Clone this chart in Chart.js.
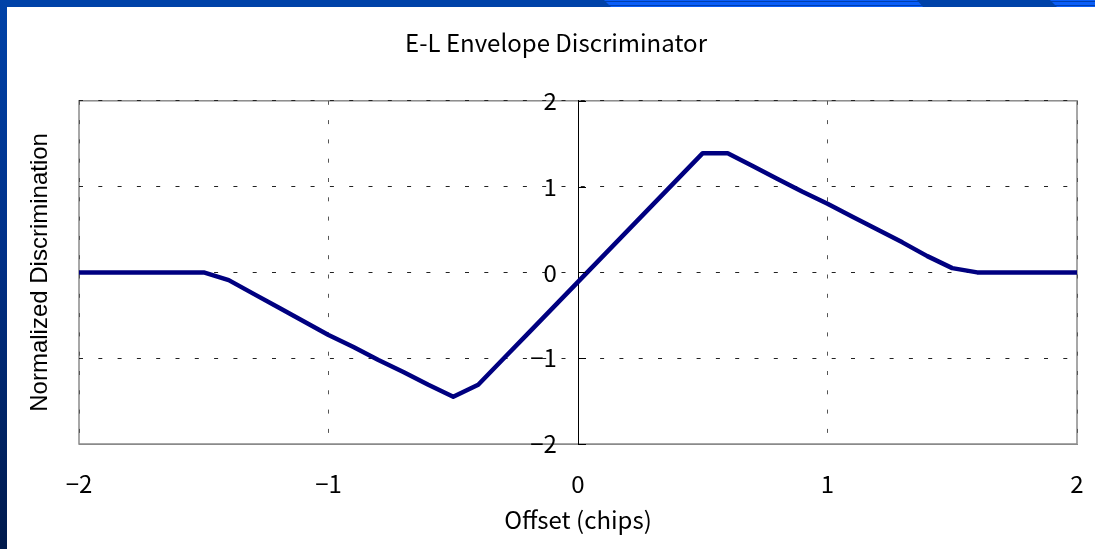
<!DOCTYPE html>
<html>
<head>
<meta charset="utf-8">
<script src="https://cdn.jsdelivr.net/npm/chart.js@4/dist/chart.umd.min.js"></script>
<style>
    body { margin: 0; background: #fff; }
    .wrap { position: relative; width: 1095px; height: 549px; overflow: hidden; background: #fff; }
    #discChart { position: absolute; left: 0; top: 0; }
    .band-top { position: absolute; left: 0; top: 0; width: 1095px; height: 7px; background: #0042a8; z-index: 2; }
    .band-stripe {
        position: absolute; top: 0; height: 7px; z-index: 3;
        background: linear-gradient(to bottom, #0a5ef8 0 1px, #0040b0 1px 2px, #0a5ef8 2px 5px, #0040b0 5px 6px, #0a5ef8 6px 7px);
    }
    .stripe-a { left: 604px; width: 320px; clip-path: polygon(0 0, 313px 0, 319px 7px, 7px 7px); }
    .stripe-b { left: 1050px; width: 45px; clip-path: polygon(0 0, 45px 0, 45px 7px, 7px 7px); }
    .band-left { position: absolute; left: 0; top: 0; width: 7px; height: 549px; z-index: 2;
        background: linear-gradient(to bottom, #0042a8 0%, #003088 45%, #001a4c 100%); }
</style>
</head>
<body>
<div class="wrap">
    <canvas id="discChart" width="1095" height="549"></canvas>
    <div class="band-top"></div>
    <div class="band-stripe stripe-a"></div>
    <div class="band-stripe stripe-b"></div>
    <div class="band-left"></div>
</div>
<script>
// E-L envelope discriminator output vs code offset
const offsets = [-2.0, -1.9, -1.8, -1.7, -1.6, -1.5, -1.4, -1.3, -1.2, -1.1, -1.0,
    -0.9, -0.8, -0.7, -0.6, -0.5, -0.4, -0.3, -0.2, -0.1, 0.0,
    0.1, 0.2, 0.3, 0.4, 0.5, 0.6, 0.7, 0.8, 0.9, 1.0,
    1.1, 1.2, 1.3, 1.4, 1.5, 1.6, 1.7, 1.8, 1.9, 2.0];
const discrimination = [0, 0, 0, 0, 0, 0, -0.09, -0.25, -0.41, -0.57, -0.73,
    -0.87, -1.02, -1.16, -1.31, -1.45, -1.31, -1.01, -0.71, -0.41, -0.11,
    0.19, 0.49, 0.79, 1.09, 1.39, 1.39, 1.24, 1.09, 0.94, 0.80,
    0.65, 0.50, 0.35, 0.19, 0.05, 0, 0, 0, 0, 0];
const xTicks = [-2, -1, 0, 1, 2];
const yTicks = [-2, -1, 0, 1, 2];

const gothic = "'Noto Sans CJK JP', 'Noto Sans', sans-serif";
const minus = v => String(v).replace('-', '\u2212');

// gray box round the plot area, drawn first so labels sit on top
const plotFrame = {
    id: 'plotFrame',
    beforeDraw(chart) {
        const {ctx, chartArea: a} = chart;
        ctx.save();
        ctx.strokeStyle = '#8a8a8a';
        ctx.lineWidth = 1.5;
        ctx.strokeRect(a.left, a.top, a.right - a.left, a.bottom - a.top);
        ctx.restore();
    }
};

// short tick marks on the inside of the center y axis
const innerTicks = {
    id: 'innerTicks',
    afterDatasetsDraw(chart) {
        const {ctx, scales: {x, y}} = chart;
        const x0 = x.getPixelForValue(0);
        ctx.save();
        ctx.strokeStyle = '#000';
        ctx.lineWidth = 1;
        ctx.beginPath();
        for (const v of yTicks) {
            const py = Math.round(y.getPixelForValue(v)) + 0.5;
            ctx.moveTo(x0, py);
            ctx.lineTo(x0 + 8, py);
        }
        ctx.stroke();
        ctx.restore();
    }
};

new Chart(document.getElementById('discChart'), {
    type: 'line',
    data: {
        datasets: [{
            data: offsets.map((o, i) => ({x: o, y: discrimination[i]})),
            borderColor: '#000080',
            borderWidth: 4.5,
            pointRadius: 0,
            tension: 0,
            borderJoinStyle: 'round',
            borderCapStyle: 'round'
        }]
    },
    options: {
        responsive: false,
        animation: false,
        layout: { padding: { left: 35, right: 18, top: 0, bottom: 0 } },
        plugins: {
            legend: { display: false },
            tooltip: { enabled: false },
            title: {
                display: true,
                text: 'E-L Envelope Discriminator',
                color: '#000',
                font: { family: gothic, size: 24, weight: 'normal', lineHeight: 1.2 },
                padding: { top: 28, bottom: 44 }
            }
        },
        scales: {
            x: {
                type: 'linear',
                min: -2,
                max: 2,
                afterBuildTicks: s => { s.ticks = xTicks.map(v => ({value: v})); },
                afterFit: s => { s.height = 105; },
                grid: { color: '#555', drawTicks: true, tickLength: 25, tickColor: 'transparent', lineWidth: 1 },
                border: { color: '#8a8a8a', dash: [4, 15.3] },
                ticks: {
                    color: '#000',
                    padding: 0,
                    maxRotation: 0,
                    font: { family: gothic, size: 24 },
                    callback: v => minus(v)
                },
                title: {
                    display: true,
                    text: 'Offset (chips)',
                    color: '#000',
                    font: { family: gothic, size: 24, lineHeight: 1.2 },
                    padding: { top: 0, bottom: 15 }
                }
            },
            // center axis line and dotted horizontal grid
            y: {
                type: 'linear',
                position: { x: 0 },
                min: -2,
                max: 2,
                afterBuildTicks: s => { s.ticks = yTicks.map(v => ({value: v})); },
                grid: { color: '#222', drawTicks: false, lineWidth: 1 },
                border: { color: '#000', width: 1, dash: [4, 15.3] },
                ticks: { display: false }
            },
            // y tick numbers, set a little left of the center line
            yNum: {
                type: 'linear',
                position: { x: -0.085 },
                min: -2,
                max: 2,
                afterBuildTicks: s => { s.ticks = yTicks.map(v => ({value: v})); },
                grid: { display: false, drawTicks: false },
                border: { display: false },
                ticks: {
                    color: '#000',
                    padding: 0,
                    font: { family: gothic, size: 24 },
                    callback: v => minus(v)
                }
            },
            yLabel: {
                type: 'linear',
                position: 'left',
                min: -2,
                max: 2,
                afterFit: s => { s.width = 44; },
                grid: { display: false, drawTicks: false },
                border: { display: false },
                ticks: { display: false },
                title: {
                    display: true,
                    text: 'Normalized Discrimination',
                    color: '#000',
                    font: { family: "'Liberation Sans', Arial, sans-serif", size: 24, lineHeight: 1 },
                    padding: { top: -7, bottom: 0 }
                }
            }
        }
    },
    plugins: [plotFrame, innerTicks]
});
</script>
</body>
</html>
